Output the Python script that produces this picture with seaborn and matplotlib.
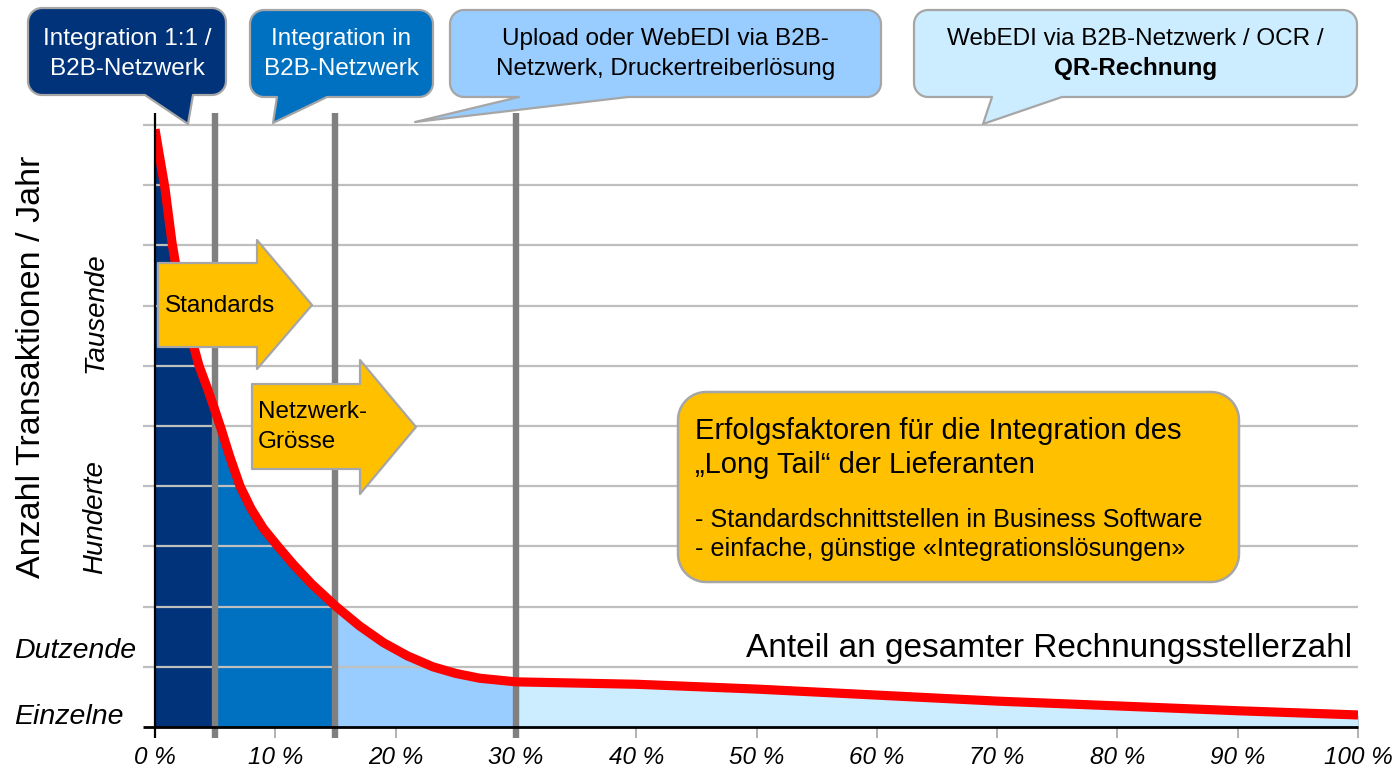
import numpy as np
import pandas as pd
import matplotlib
matplotlib.use("Agg")
import matplotlib.pyplot as plt
import matplotlib.transforms as mtransforms
from matplotlib.patches import Polygon
import seaborn as sns

# ---------------- data ----------------
share_pct = [0, 0.4, 0.83, 1.41, 2.0, 2.7, 3.66, 4.4, 5.0, 5.5, 6.2, 7.07, 8.0, 9.0,
             10.22, 11.5, 13.0, 15.0, 17.0, 19.0, 21.0, 23.1, 25.0, 27.0, 30.0,
             40, 50, 60, 70, 80, 90, 100]
transactions = [9.93, 9.45, 8.95, 8.05, 7.35, 6.7, 6.0, 5.6, 5.25, 4.95, 4.5, 4.0, 3.62, 3.3,
                3.0, 2.7, 2.38, 2.01, 1.68, 1.4, 1.18, 1.0, 0.89, 0.81, 0.75,
                0.71, 0.63, 0.53, 0.43, 0.35, 0.27, 0.20]
segment_bounds = [0, 5, 15, 30, 100]
segment_colors = ["#00337A", "#0070C0", "#99CCFF", "#CCECFF"]
divider_pct = [5, 15, 30]
x_ticks = [0, 10, 20, 30, 40, 50, 60, 70, 80, 90, 100]
x_tick_labels = [f"{t} %" for t in x_ticks]
grid_levels = [1, 2, 3, 4, 5, 6, 7, 8, 9, 10]
level_names = ["Einzelne", "Dutzende", "Hunderte", "Tausende"]
level_pos = [0.17, 1.27, 3.49, 6.88]
level_rot = [0, 0, 90, 90]
x_title = "Anteil an gesamter Rechnungsstellerzahl"
y_title = "Anzahl Transaktionen / Jahr"

callout_texts = [["Integration 1:1 /", "B2B-Netzwerk"],
                 ["Integration in", "B2B-Netzwerk"],
                 ["Upload oder WebEDI via B2B-", "Netzwerk, Druckertreiberlösung"],
                 ["WebEDI via B2B-Netzwerk / OCR /", "QR-Rechnung"]]
callout_fill = ["#00337A", "#0070C0", "#99CCFF", "#CCECFF"]
callout_textcolor = ["white", "white", "black", "black"]

# ---------------- style ----------------
sns.set_theme(style="white")
plt.rcParams["font.family"] = ["Liberation Sans", "DejaVu Sans"]

W, H = 1392, 776
fig = plt.figure(figsize=(W / 100, H / 100), dpi=100)
fig.patch.set_facecolor("white")


def fx(px):
    return px / W


def fy(py):
    return 1 - py / H


ax = fig.add_axes([fx(155), fy(727), (1358 - 155) / W, (727 - 113) / H])
ax.set_xlim(0, 100)
ax.set_ylim(0, 10.2)
for s in ax.spines.values():
    s.set_visible(False)

df = pd.DataFrame({"share": share_pct, "tx": transactions})

# fills under curve
xs = np.array(share_pct)
ys = np.array(transactions)
for lo, hi, col in zip(segment_bounds[:-1], segment_bounds[1:], segment_colors):
    m = (xs >= lo) & (xs <= hi)
    ax.fill_between(xs[m], 0, ys[m], color=col, lw=0, zorder=1)

# grid lines
for lv in grid_levels:
    ax.plot([-1.0, 100], [lv, lv], color="#BFBFBF", lw=1.6, clip_on=False, zorder=2,
            solid_capstyle="butt")

# divider lines
for d in divider_pct:
    ax.plot([d, d], [-0.18, 10.2], color="#808080", lw=4.6, clip_on=False, zorder=3,
            solid_capstyle="butt")

# curve
sns.lineplot(data=df, x="share", y="tx", color="#FF0000", linewidth=6.6, ax=ax,
             zorder=4, sort=False, estimator=None, solid_capstyle="butt",
             solid_joinstyle="round")

# axes lines
ax.plot([0, 0], [-0.18, 10.2], color="black", lw=1.6, clip_on=False, zorder=5,
        solid_capstyle="butt")
ax.plot([-1.0, 100], [0, 0], color="black", lw=2.0, clip_on=False, zorder=5,
        solid_capstyle="butt")

ax.set_xlabel("")
ax.set_ylabel("")
ax.set_yticks([])
ax.set_xticks(x_ticks)
ax.set_xticklabels(x_tick_labels, fontsize=17.5, fontstyle="italic", color="black")
ax.tick_params(axis="x", direction="inout", length=16, width=1.2, color="#A6A6A6",
               pad=6, bottom=True)

# level labels
tr = mtransforms.blended_transform_factory(fig.transFigure, ax.transData)
for name, pos, rot in zip(level_names, level_pos, level_rot):
    if rot == 0:
        ax.text(fx(14), pos, name, transform=tr, ha="left", va="center",
                fontsize=20.5, fontstyle="italic", color="black")
    else:
        ax.text(fx(95), pos, name, transform=tr, ha="center", va="center",
                rotation=90, fontsize=20, fontstyle="italic", color="black")

fig.text(fx(32), fy(367), y_title, rotation=90, ha="center", va="center",
         fontsize=24.5, color="black")
fig.text(fx(1352), fy(648), x_title, ha="right", va="center", fontsize=24,
         color="black")


# ---------------- shapes ----------------
def rounded_path(x0, y0, x1, y1, r, tail=None):
    pts = []

    def arc(cx, cy, a0, a1):
        for t in np.linspace(np.radians(a0), np.radians(a1), 12):
            pts.append((cx + r * np.cos(t), cy + r * np.sin(t)))

    arc(x0 + r, y0 + r, 180, 270)
    arc(x1 - r, y0 + r, 270, 360)
    arc(x1 - r, y1 - r, 0, 90)
    if tail is not None:
        bl, br, tip = tail
        pts.append((br, y1))
        pts.append(tip)
        pts.append((bl, y1))
    arc(x0 + r, y1 - r, 90, 180)
    return [(fx(a), fy(b)) for a, b in pts]


def add_poly(pts, face, edge="#A6A6A6", lw=1.6, z=6):
    p = Polygon(pts, closed=True, transform=fig.transFigure, facecolor=face,
                edgecolor=edge, lw=lw, zorder=z, joinstyle="round")
    fig.add_artist(p)


# callouts
boxes = [(28, 8, 226, 95, 14, (145, 193, (188, 124))),
         (250, 10, 433, 97, 14, (277, 327, (273, 123))),
         (450, 10, 881, 97, 14, (519, 628, (415, 122))),
         (914, 10, 1357, 97, 14, (992, 1062, (983, 124)))]
for i, (x0, y0, x1, y1, r, tail) in enumerate(boxes):
    add_poly(rounded_path(x0, y0, x1, y1, r, tail), callout_fill[i])
    cx = (x0 + x1) / 2
    l1, l2 = callout_texts[i]
    fig.text(fx(cx), fy(39), l1, ha="center", va="center", fontsize=17.5,
             color=callout_textcolor[i], zorder=8)
    fig.text(fx(cx), fy(69), l2, ha="center", va="center", fontsize=17.5,
             color=callout_textcolor[i], zorder=8,
             fontweight="bold" if i == 3 else "normal")

# block arrows
arrow1 = [(158, 263), (257, 263), (257, 240), (312, 305), (257, 369), (257, 347), (158, 347)]
add_poly([(fx(a), fy(b)) for a, b in arrow1], "#FFC000", lw=1.6)
fig.text(fx(165), fy(306), "Standards", ha="left", va="center", fontsize=17.5,
         color="black", zorder=8)

arrow2 = [(252, 384), (360, 384), (360, 360), (416, 427), (360, 494), (360, 469), (252, 469)]
add_poly([(fx(a), fy(b)) for a, b in arrow2], "#FFC000", lw=1.6)
fig.text(fx(258), fy(412), "Netzwerk-", ha="left", va="center", fontsize=17.5,
         color="black", zorder=8)
fig.text(fx(258), fy(442), "Grösse", ha="left", va="center", fontsize=17.5,
         color="black", zorder=8)

# info box
add_poly(rounded_path(678, 392, 1239, 582, 28), "#FFC000", lw=1.8)
fig.text(fx(695), fy(431), "Erfolgsfaktoren für die Integration des", ha="left",
         va="center", fontsize=21, color="black", zorder=8)
fig.text(fx(695), fy(465), "„Long Tail“ der Lieferanten", ha="left",
         va="center", fontsize=21, color="black", zorder=8)
fig.text(fx(695), fy(520), "- Standardschnittstellen in Business Software", ha="left",
         va="center", fontsize=18.2, color="black", zorder=8)
fig.text(fx(695), fy(549), "- einfache, günstige «Integrationslösungen»", ha="left",
         va="center", fontsize=18.2, color="black", zorder=8)

fig.savefig("out.png", dpi=100, facecolor="white")
